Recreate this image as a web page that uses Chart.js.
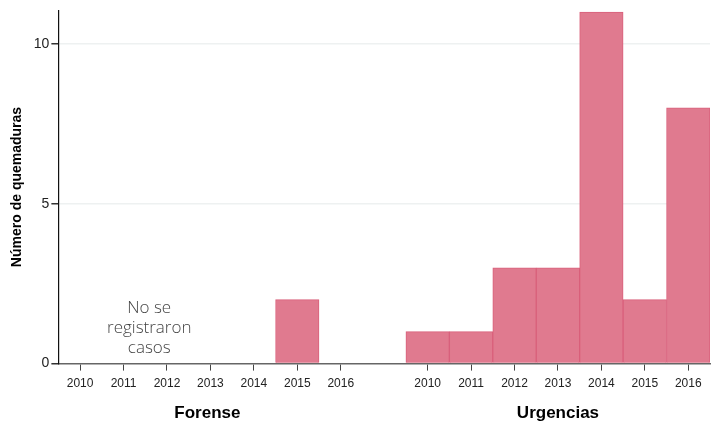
<!DOCTYPE html>
<html>
<head>
<meta charset="utf-8">
<script src="https://cdn.jsdelivr.net/npm/chart.js@4/dist/chart.umd.min.js"></script>
<style>
  html, body { margin: 0; padding: 0; background: #fff; }
  #wrap { width: 712px; height: 422px; }
</style>
</head>
<body>
<div id="wrap"><canvas id="quemadurasChart"></canvas></div>
<script>
const years = ['2010', '2011', '2012', '2013', '2014', '2015', '2016'];
const forenseValues = [0, 0, 0, 0, 0, 2, 0];
const urgenciasValues = [1, 1, 3, 3, 11, 2, 8];
const groupNames = ['Forense', 'Urgencias'];
const emptyNote = ['No se', 'registraron', 'casos'];
const yTicks = [0, 5, 10];

// una categoría vacía separa los dos grupos
const labels = [...years, '', ...years];
const values = [...forenseValues, null, ...urgenciasValues].map(v => v === 0 ? null : v);
const gapIndex = years.length;

const groupLabelsPlugin = {
    id: 'groupLabels',
    afterDraw(chart) {
        const { ctx, scales: { x, y } } = chart;
        ctx.save();
        ctx.textAlign = 'center';
        ctx.textBaseline = 'middle';

        // nombres de grupo bajo el eje
        ctx.fillStyle = '#000';
        ctx.font = 'bold 17px "Liberation Sans", Arial, sans-serif';
        const mid1 = (x.getPixelForValue(0) + x.getPixelForValue(gapIndex - 1)) / 2;
        const mid2 = (x.getPixelForValue(gapIndex + 1) + x.getPixelForValue(labels.length - 1)) / 2;
        ctx.fillText(groupNames[0], mid1 - 3, 413);
        ctx.fillText(groupNames[1], mid2, 413);

        // nota del grupo forense
        ctx.fillStyle = '#444';
        ctx.font = '300 17px "Open Sans", "Noto Sans", sans-serif';
        const cx = (x.getPixelForValue(1) + x.getPixelForValue(2)) / 2 + 4;
        emptyNote.forEach((line, i) => {
            ctx.fillText(line, cx, y.getPixelForValue(1.75) + i * 20);
        });
        ctx.restore();
    }
};

new Chart(document.getElementById('quemadurasChart'), {
    type: 'bar',
    data: {
        labels: labels,
        datasets: [{
            data: values,
            backgroundColor: '#e07a8f',
            borderColor: '#d9607b',
            borderWidth: 1,
            barPercentage: 1,
            categoryPercentage: 1
        }]
    },
    options: {
        responsive: true,
        maintainAspectRatio: false,
        animation: false,
        layout: { padding: { left: 9, right: 2, top: 10, bottom: 25 } },
        plugins: {
            legend: { display: false },
            tooltip: { enabled: false }
        },
        scales: {
            x: {
                grid: {
                    display: true,
                    offset: false,
                    drawOnChartArea: false,
                    tickLength: 7,
                    tickColor: ctx => ctx.index === gapIndex ? 'rgba(0,0,0,0)' : '#444'
                },
                border: { color: '#666', width: 1.5 },
                ticks: {
                    color: '#222',
                    font: { family: '"Liberation Sans", Arial, sans-serif', size: 12 },
                    maxRotation: 0,
                    autoSkip: false,
                    padding: 6
                }
            },
            y: {
                min: 0,
                max: 11.05,
                afterBuildTicks: axis => { axis.ticks = yTicks.map(v => ({ value: v })); },
                grid: {
                    color: ctx => ctx.tick && ctx.tick.value === 0 ? 'rgba(0,0,0,0)' : '#eef1f1',
                    lineWidth: 1.5,
                    tickLength: 7,
                    tickColor: '#333'
                },
                border: { color: '#111', width: 1.2 },
                ticks: {
                    color: '#222',
                    font: { family: '"Liberation Sans", Arial, sans-serif', size: 14 },
                    padding: 2
                },
                title: {
                    display: true,
                    text: 'Número de quemaduras',
                    color: '#000',
                    font: { family: '"Liberation Sans", Arial, sans-serif', size: 14, weight: 'bold' },
                    padding: { top: 0, bottom: 6 }
                }
            }
        }
    },
    plugins: [groupLabelsPlugin]
});
</script>
</body>
</html>
